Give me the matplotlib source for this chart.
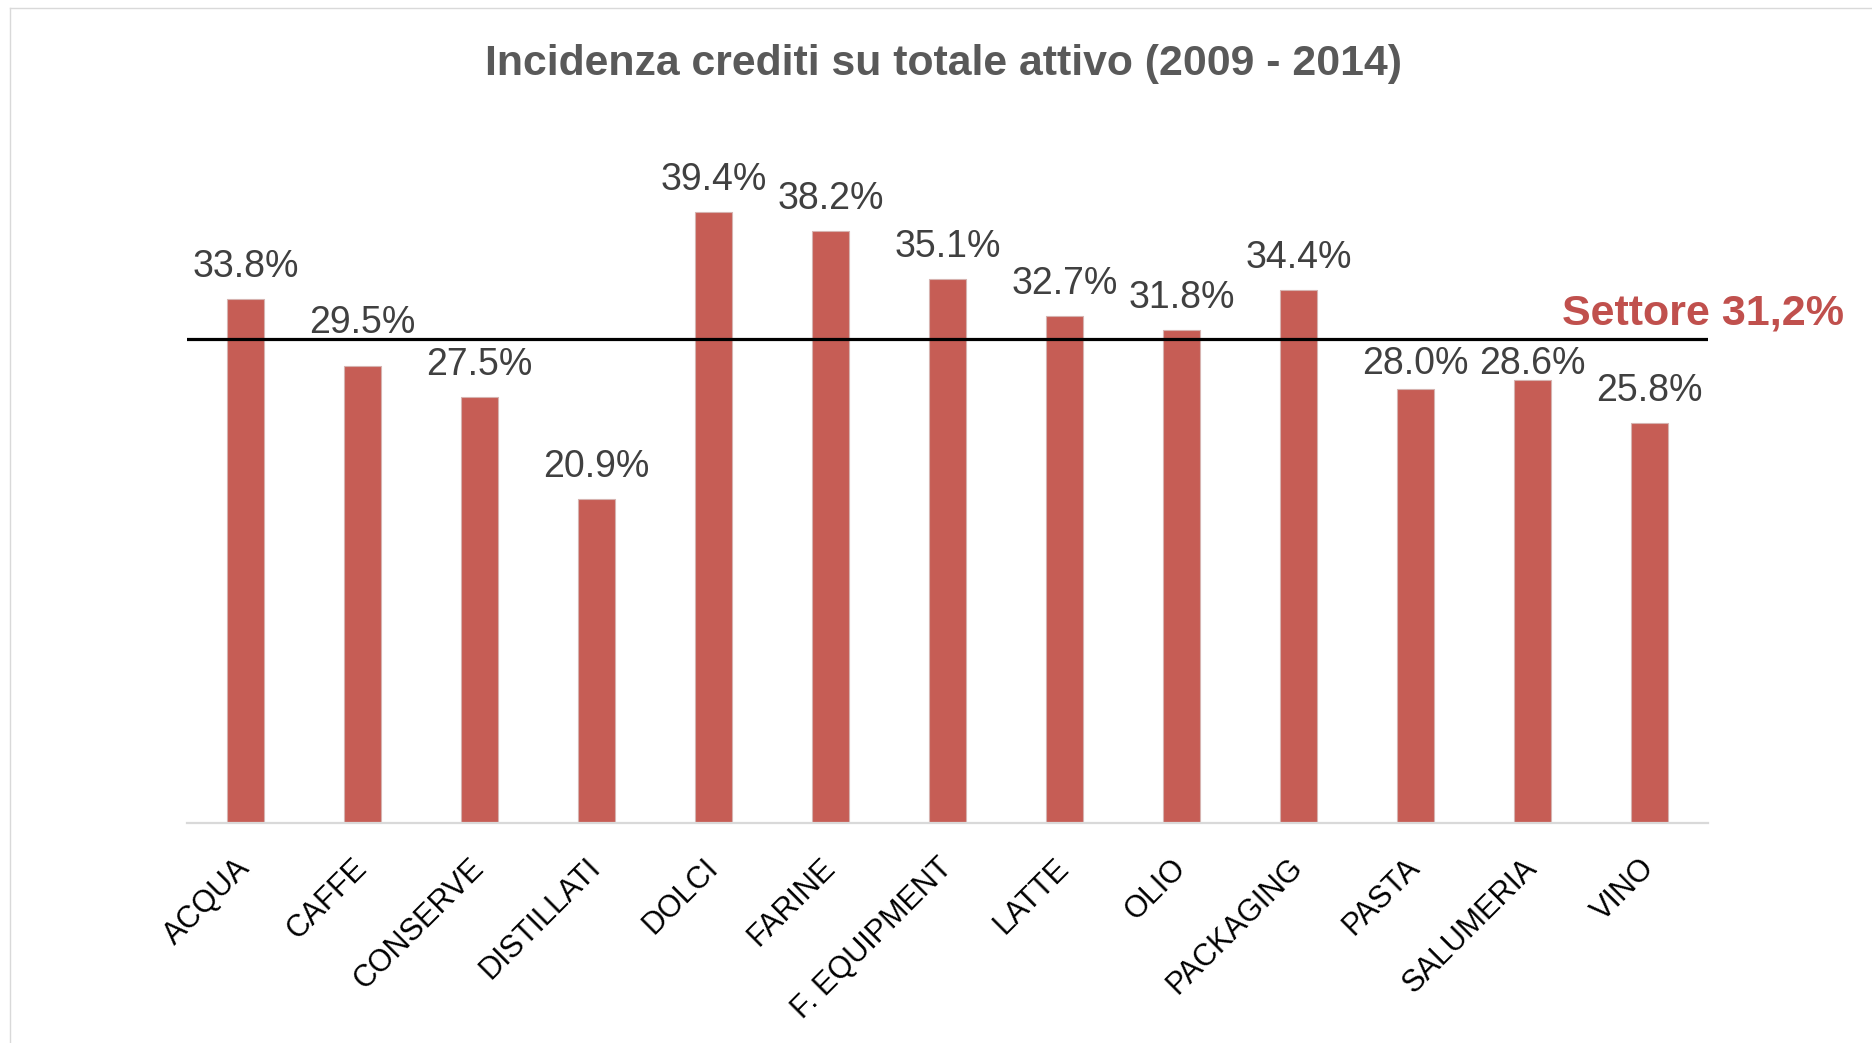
import matplotlib
matplotlib.use("Agg")
import matplotlib.pyplot as plt
from matplotlib.lines import Line2D

plt.rcParams['font.family'] = ['Liberation Sans', 'DejaVu Sans']

categories = ['ACQUA', 'CAFFE', 'CONSERVE', 'DISTILLATI', 'DOLCI', 'FARINE',
              'F. EQUIPMENT', 'LATTE', 'OLIO', 'PACKAGING', 'PASTA',
              'SALUMERIA', 'VINO']
values = [33.8, 29.5, 27.5, 20.9, 39.4, 38.2, 35.1, 32.7, 31.8, 34.4,
          28.0, 28.6, 25.8]
settore = 31.2
title = 'Incidenza crediti su totale attivo (2009 - 2014)'
settore_label = 'Settore 31,2%'

# labels moved by hand so they clear the sector line (points)
label_nudge = {'CAFFE': 7.5, 'PASTA': -5, 'SALUMERIA': -12}

fig = plt.figure(figsize=(18.72, 10.43), dpi=100)
ax = fig.add_axes([0.0999, 0.2109, 0.8125, 0.6687])

x = range(len(categories))
ax.bar(x, values, width=0.31, color='#c65d55', edgecolor='#d6b3b0',
       linewidth=0.8, zorder=2)

for xi, cat, v in zip(x, categories, values):
    ax.annotate(f'{v:.1f}%', xy=(xi, v),
                xytext=(0, 15.8 + label_nudge.get(cat, 0)),
                textcoords='offset points', ha='center', va='baseline',
                fontsize=27, color='#404040', zorder=4)

ax.axhline(settore, color='black', linewidth=2.3, zorder=3)
ax.annotate(settore_label, xy=(1, settore),
            xycoords=('axes fraction', 'data'), xytext=(98, 11),
            textcoords='offset points', ha='right', va='baseline',
            fontsize=31, fontweight='bold', color='#c0504d',
            annotation_clip=False)

ax.set_xlim(-0.5, len(categories) - 0.5)
ax.set_ylim(0, 45)
ax.set_xticks(list(x))
ax.set_xticklabels(categories, rotation=45, ha='right', va='center',
                   rotation_mode='anchor', fontsize=22, color='black')
ax.tick_params(axis='x', length=0, pad=29)
ax.set_yticks([])
for s in ['top', 'right', 'left']:
    ax.spines[s].set_visible(False)
ax.spines['bottom'].set_color('#d9d9d9')
ax.spines['bottom'].set_linewidth(1.6)

fig.text(0.504, 0.928, title, ha='center', va='baseline', fontsize=30.8,
         fontweight='bold', color='#595959')

# light frame around the chart area
fig.add_artist(Line2D([10 / 1872, 1], [1 - 8 / 1043, 1 - 8 / 1043],
                      transform=fig.transFigure, color='#d9d9d9', lw=1))
fig.add_artist(Line2D([10 / 1872, 10 / 1872], [0, 1 - 8 / 1043],
                      transform=fig.transFigure, color='#d9d9d9', lw=1))

fig.savefig('out.png', dpi=100)
